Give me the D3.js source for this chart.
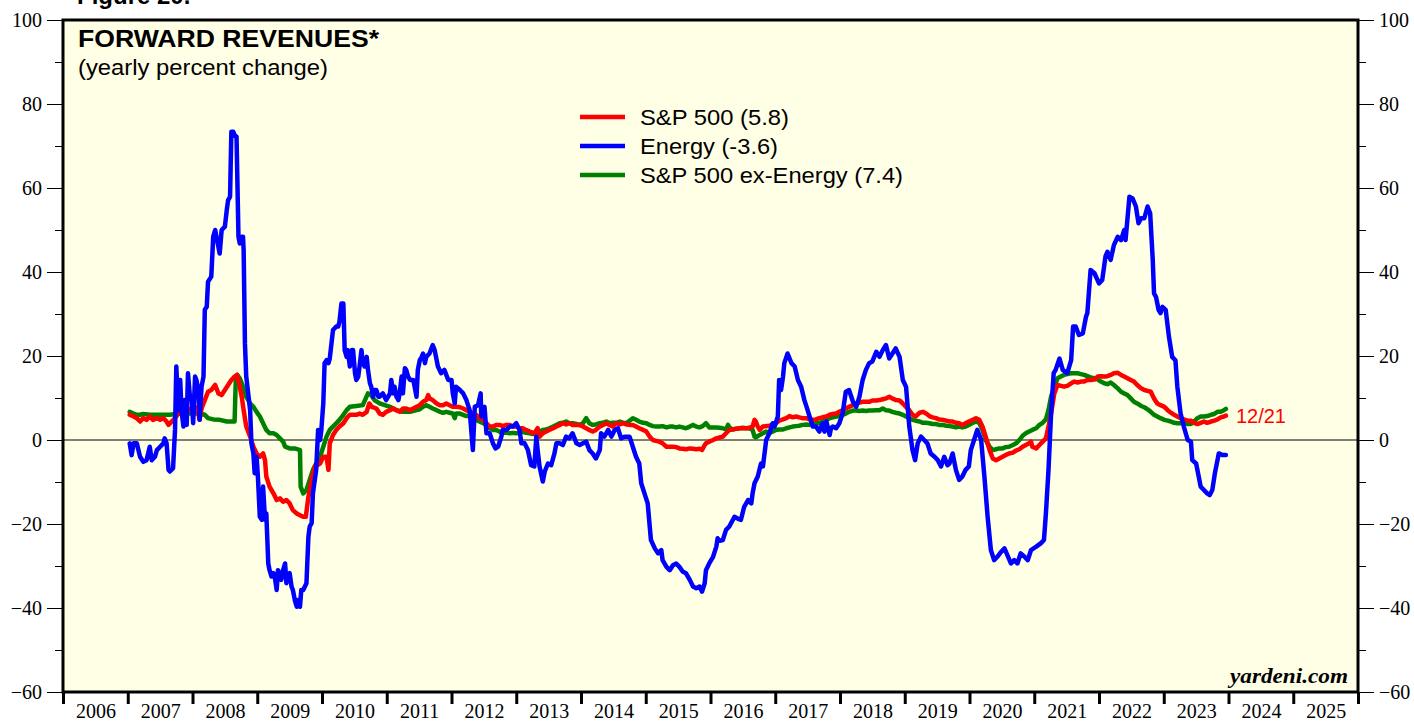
<!DOCTYPE html>
<html>
<head>
<meta charset="utf-8">
<script src="https://cdn.jsdelivr.net/npm/d3@7"></script>
<style>
body { margin: 0; background: #fff; }
svg { display: block; }
.axis text { font-family: "Liberation Serif", "Times New Roman", serif; font-size: 20px; fill: #000; }
.axis path.domain { display: none; }
.label { font-family: "Liberation Sans", Arial, sans-serif; fill: #000; }
</style>
</head>
<body>
<div id="chart"></div>
<script>
// Tick labels
const yearLabels = ["2006", "2007", "2008", "2009", "2010", "2011", "2012", "2013", "2014", "2015",
    "2016", "2017", "2018", "2019", "2020", "2021", "2022", "2023", "2024", "2025"];
const yMajor = [-60, -40, -20, 0, 20, 40, 60, 80, 100];
const yMinor = [-50, -30, -10, 10, 30, 50, 70, 90];

const seriesNames = ["S&P 500 (5.8)", "Energy (-3.6)", "S&P 500 ex-Energy (7.4)"];
const seriesColors = ["#ff0000", "#0000ff", "#008000"];
const lastDate = "12/21";

// [decimal year, yearly percent change]
const sp500 = [
[2007.03,6.0],[2007.09,5.6],[2007.14,5.2],[2007.19,4.4],[2007.24,5.2],[2007.29,4.8],[2007.34,5.6],[2007.39,4.8],[2007.45,5.2],[2007.50,4.8],[2007.55,5.2],[2007.60,4.4],[2007.63,3.6],[2007.68,4.4],[2007.73,5.2],[2007.78,6.3],[2007.83,7.9],[2007.88,6.7],[2007.93,7.5],[2007.99,7.1],[2008.04,7.9],[2008.09,6.3],[2008.11,4.8],[2008.14,7.5],[2008.19,9.5],[2008.24,11.5],[2008.29,11.9],[2008.35,13.1],[2008.40,11.1],[2008.45,10.7],[2008.50,11.9],[2008.55,13.1],[2008.60,14.3],[2008.65,15.1],[2008.69,15.5],[2008.72,13.5],[2008.76,10.3],[2008.79,7.1],[2008.83,3.2],[2008.89,0.8],[2008.94,-1.6],[2008.99,-3.2],[2009.04,-4.0],[2009.09,-3.2],[2009.12,-4.8],[2009.14,-8.7],[2009.19,-11.1],[2009.25,-12.7],[2009.30,-14.3],[2009.35,-13.9],[2009.40,-14.7],[2009.45,-14.3],[2009.50,-15.1],[2009.55,-16.7],[2009.61,-17.5],[2009.66,-17.9],[2009.71,-18.3],[2009.75,-18.3],[2009.79,-13.5],[2009.84,-9.5],[2009.89,-6.3],[2009.97,-5.6],[2010.02,-4.0],[2010.07,-4.0],[2010.10,-7.1],[2010.12,-0.8],[2010.17,1.2],[2010.22,2.4],[2010.27,3.2],[2010.33,4.0],[2010.38,5.2],[2010.43,6.0],[2010.48,6.0],[2010.53,6.0],[2010.58,6.3],[2010.63,6.0],[2010.69,6.7],[2010.73,8.7],[2010.77,7.9],[2010.84,7.5],[2010.89,6.3],[2010.94,6.0],[2010.99,6.7],[2011.05,7.1],[2011.10,7.5],[2011.15,7.1],[2011.20,6.7],[2011.25,7.5],[2011.30,7.5],[2011.36,7.1],[2011.41,7.5],[2011.46,7.9],[2011.51,8.3],
[2011.56,9.1],[2011.61,9.5],[2011.64,10.7],[2011.66,9.9],[2011.71,9.5],[2011.77,8.7],[2011.82,8.3],[2011.87,8.3],[2011.92,8.7],[2011.97,8.3],[2012.02,7.9],[2012.07,7.9],[2012.13,7.8],[2012.18,7.5],[2012.23,7.1],[2012.28,6.7],[2012.33,6.3],[2012.38,6.0],[2012.43,5.2],[2012.49,4.8],[2012.54,4.0],[2012.59,3.2],[2012.64,3.2],[2012.69,3.6],[2012.74,3.6],[2012.79,3.3],[2012.85,3.6],[2012.90,3.6],[2012.95,3.2],[2013.00,3.2],[2013.05,2.8],[2013.10,2.8],[2013.15,2.4],[2013.21,2.0],[2013.28,1.6],[2013.33,2.8],[2013.36,0.8],[2013.41,1.6],[2013.46,2.0],[2013.51,2.4],[2013.57,2.8],[2013.62,3.2],[2013.67,3.6],[2013.72,4.0],[2013.77,3.7],[2013.82,4.0],[2013.87,3.6],[2013.93,3.6],[2013.98,3.6],[2014.03,3.2],[2014.08,2.8],[2014.13,2.4],[2014.18,2.0],[2014.23,2.4],[2014.29,3.2],[2014.34,3.6],[2014.39,4.0],[2014.44,3.6],[2014.49,3.2],[2014.54,4.0],[2014.60,3.7],[2014.65,4.0],[2014.70,3.7],[2014.75,3.6],[2014.80,3.6],[2014.85,3.2],[2014.90,2.8],[2014.96,2.4],[2015.01,2.0],[2015.06,0.8],[2015.11,0.0],[2015.16,-0.2],[2015.21,-0.4],[2015.26,-0.8],[2015.32,-1.6],[2015.37,-1.6],[2015.42,-1.6],[2015.47,-1.7],[2015.52,-2.0],[2015.57,-2.1],[2015.62,-2.2],[2015.68,-2.0],[2015.73,-2.1],[2015.78,-2.2],[2015.83,-2.1],[2015.87,-2.4],[2015.91,-1.2],[2015.93,-0.8],[2015.98,-0.4],[2016.04,0.0],[2016.09,0.4],[2016.14,0.6],
[2016.19,0.8],[2016.24,1.6],[2016.29,2.4],[2016.34,2.5],[2016.40,2.7],[2016.45,2.8],[2016.55,2.8],[2016.60,2.9],[2016.65,3.2],[2016.68,4.8],[2016.70,4.4],[2016.73,3.2],[2016.76,2.4],[2016.81,3.2],[2016.91,3.4],[2016.96,3.6],[2017.01,4.0],[2017.06,4.6],[2017.12,4.9],[2017.17,5.2],[2017.22,5.7],[2017.27,5.4],[2017.32,5.6],[2017.37,5.4],[2017.42,5.2],[2017.48,5.2],[2017.53,4.9],[2017.58,4.8],[2017.63,4.9],[2017.68,5.2],[2017.73,5.4],[2017.79,5.6],[2017.84,6.0],[2017.89,6.2],[2017.94,6.3],[2017.99,6.7],[2018.04,7.1],[2018.09,7.5],[2018.14,7.9],[2018.20,8.3],[2018.25,8.6],[2018.30,8.9],[2018.35,9.1],[2018.45,9.1],[2018.50,9.4],[2018.56,9.4],[2018.61,9.5],[2018.66,9.7],[2018.71,9.9],[2018.76,10.3],[2018.81,9.9],[2018.86,9.5],[2018.92,9.4],[2018.97,8.7],[2019.02,7.9],[2019.07,7.1],[2019.12,6.0],[2019.17,5.6],[2019.23,6.5],[2019.28,6.7],[2019.33,6.3],[2019.38,5.7],[2019.43,5.4],[2019.48,5.2],[2019.53,4.9],[2019.59,4.8],[2019.64,4.6],[2019.69,4.4],[2019.74,4.4],[2019.79,4.1],[2019.84,4.0],[2019.89,3.6],[2019.94,4.0],[2019.99,4.4],[2020.05,4.8],[2020.10,5.2],[2020.15,4.8],[2020.20,3.2],[2020.25,0.8],[2020.31,-2.4],[2020.36,-4.4],[2020.41,-4.8],[2020.46,-4.4],[2020.51,-4.0],[2020.56,-3.6],[2020.61,-3.2],[2020.67,-3.0],[2020.72,-2.5],[2020.77,-2.2],
[2020.82,-1.6],[2020.87,-1.2],[2020.92,-0.8],[2020.95,-0.4],[2020.97,-1.6],[2021.03,-2.0],[2021.08,-1.2],[2021.13,-0.4],[2021.18,0.4],[2021.22,3.2],[2021.26,6.3],[2021.31,11.1],[2021.36,13.1],[2021.41,12.9],[2021.46,12.7],[2021.51,12.9],[2021.57,13.5],[2021.62,13.9],[2021.67,13.7],[2021.72,13.9],[2021.77,13.9],[2021.82,14.3],[2021.87,14.3],[2021.93,14.4],[2021.98,15.1],[2022.03,15.2],[2022.08,15.1],[2022.13,15.2],[2022.18,15.5],[2022.23,15.9],[2022.29,16.0],[2022.34,15.5],[2022.39,15.1],[2022.44,14.7],[2022.49,14.3],[2022.54,13.9],[2022.59,13.1],[2022.65,12.3],[2022.70,11.9],[2022.75,11.7],[2022.80,11.5],[2022.85,9.9],[2022.90,8.7],[2022.95,8.3],[2023.01,7.9],[2023.06,7.1],[2023.11,6.5],[2023.16,6.0],[2023.21,5.6],[2023.26,5.2],[2023.31,4.9],[2023.37,4.6],[2023.42,4.6],[2023.47,4.1],[2023.52,3.8],[2023.57,4.1],[2023.62,4.4],[2023.67,4.1],[2023.73,4.4],[2023.78,4.6],[2023.83,4.9],[2023.88,5.4],[2023.93,5.6],[2023.96,5.8]
];

const energy = [
[2007.03,-0.8],[2007.06,-3.6],[2007.09,-0.8],[2007.14,-0.8],[2007.19,-4.0],[2007.24,-5.2],[2007.29,-4.8],[2007.34,-1.6],[2007.37,-4.8],[2007.42,-4.0],[2007.45,-2.4],[2007.50,-1.6],[2007.55,-0.8],[2007.57,0.4],[2007.60,-0.8],[2007.63,-7.1],[2007.65,-7.5],[2007.70,-6.7],[2007.73,2.4],[2007.75,17.5],[2007.78,7.1],[2007.81,14.3],[2007.83,7.1],[2007.86,3.2],[2007.88,9.5],[2007.91,3.6],[2007.93,15.9],[2007.96,10.3],[2007.99,9.5],[2008.01,4.0],[2008.04,15.1],[2008.06,14.3],[2008.09,11.9],[2008.11,4.8],[2008.14,12.7],[2008.17,15.1],[2008.19,31.0],[2008.22,31.7],[2008.24,37.7],[2008.29,38.9],[2008.32,48.4],[2008.35,50.0],[2008.37,48.4],[2008.42,44.4],[2008.45,50.0],[2008.50,50.8],[2008.53,54.8],[2008.55,57.1],[2008.58,57.9],[2008.60,73.4],[2008.63,73.4],[2008.65,72.6],[2008.68,72.2],[2008.71,48.4],[2008.73,46.8],[2008.76,48.4],[2008.78,48.4],[2008.79,45.2],[2008.81,23.0],[2008.83,15.1],[2008.89,7.1],[2008.91,-0.8],[2008.94,-3.2],[2008.96,-7.9],[2008.99,-4.0],[2009.01,-8.7],[2009.04,-18.3],[2009.07,-19.0],[2009.09,-11.1],[2009.12,-19.0],[2009.14,-17.5],[2009.17,-29.4],[2009.19,-31.0],[2009.22,-32.5],[2009.25,-31.7],[2009.27,-32.5],[2009.30,-35.7],[2009.32,-31.0],[2009.35,-31.7],[2009.37,-33.3],[2009.40,-31.0],[2009.43,-29.4],[2009.45,-34.1],[2009.48,-32.5],[2009.50,-31.7],[2009.53,-34.9],[2009.55,-35.7],[2009.58,-38.1],[2009.61,-39.7],[2009.63,-38.1],[2009.66,-39.7],[2009.68,-35.7],[2009.71,-35.7],[2009.76,-34.1],[2009.79,-23.0],[2009.81,-20.6],[2009.84,-19.8],[2009.86,-12.7],[2009.91,-7.1],[2009.94,2.4],[2009.97,0.0],[2009.99,2.4],[2010.02,8.7],[2010.04,18.3],[2010.07,19.0],[2010.10,18.3],[2010.12,19.4],[2010.17,26.2],[2010.22,27.0],[2010.25,27.0],[2010.27,28.2],[2010.30,32.5],[2010.33,32.5],[2010.35,21.4],[2010.38,19.8],[2010.40,21.4],[2010.43,17.5],[2010.46,21.4],[2010.48,21.4],[2010.51,15.9],[2010.53,14.3],[2010.56,15.1],[2010.58,17.5],[2010.61,21.4],[2010.63,18.3],[2010.66,17.5],[2010.69,19.8],[2010.71,16.7],[2010.74,13.5],[2010.76,12.7],[2010.79,10.3],[2010.81,11.9],[2010.84,11.9],[2010.87,10.3],[2010.89,10.3],[2010.94,11.1],[2010.99,9.5],[2011.05,11.1],[2011.07,14.3],[2011.10,11.1],[2011.12,12.7],[2011.15,10.3],[2011.18,9.5],[2011.20,11.1],[2011.23,15.1],[2011.25,11.1],[2011.28,17.1],[2011.30,16.7],[2011.33,15.1],[2011.36,14.3],[2011.41,14.3],[2011.43,12.7],[2011.46,10.3],[2011.48,16.7],[2011.51,19.0],
[2011.54,19.8],[2011.56,20.6],[2011.59,18.3],[2011.61,19.8],[2011.66,20.6],[2011.71,22.6],[2011.74,21.4],[2011.79,17.5],[2011.84,15.9],[2011.89,16.7],[2011.95,14.3],[2012.00,14.3],[2012.02,11.1],[2012.05,8.7],[2012.07,12.7],[2012.13,11.9],[2012.18,11.1],[2012.23,9.5],[2012.28,7.1],[2012.33,-2.4],[2012.36,7.9],[2012.41,8.3],[2012.45,11.1],[2012.46,5.6],[2012.51,7.9],[2012.54,1.6],[2012.59,1.6],[2012.64,-0.8],[2012.68,-2.0],[2012.72,-1.6],[2012.77,0.8],[2012.79,2.4],[2012.85,2.4],[2012.90,3.2],[2012.95,3.2],[2013.00,4.0],[2013.05,2.4],[2013.08,-0.8],[2013.13,-0.8],[2013.18,-2.4],[2013.23,-6.0],[2013.28,-6.3],[2013.31,0.8],[2013.33,-2.4],[2013.36,-6.3],[2013.41,-9.9],[2013.44,-7.5],[2013.49,-5.6],[2013.54,-6.0],[2013.59,-3.2],[2013.62,-0.8],[2013.67,-0.8],[2013.72,-1.2],[2013.77,0.8],[2013.82,0.4],[2013.87,1.6],[2013.93,-0.8],[2013.98,-1.2],[2014.03,-0.8],[2014.08,-0.4],[2014.13,-2.4],[2014.18,-3.2],[2014.23,-4.4],[2014.29,-2.4],[2014.31,1.6],[2014.36,0.8],[2014.42,2.4],[2014.47,0.8],[2014.52,2.4],[2014.57,2.8],[2014.62,0.4],[2014.67,0.8],[2014.75,0.8],[2014.80,-1.6],[2014.85,-4.0],[2014.90,-5.6],[2014.93,-10.3],[2014.98,-12.7],[2015.03,-15.1],[2015.08,-23.8],[2015.14,-25.8],[2015.19,-27.0],[2015.24,-26.2],[2015.26,-28.6],[2015.32,-30.2],[2015.37,-31.0],[2015.42,-29.8],[2015.47,-29.4],[2015.52,-30.2],[2015.57,-31.3],[2015.62,-31.7],[2015.68,-33.3],[2015.73,-34.9],[2015.78,-35.3],[2015.83,-34.9],[2015.87,-36.1],[2015.91,-34.1],[2015.93,-31.0],[2015.98,-29.4],[2016.04,-27.8],[2016.09,-25.4],[2016.11,-23.4],[2016.14,-24.0],
[2016.19,-23.8],[2016.24,-21.4],[2016.29,-20.6],[2016.37,-18.3],[2016.42,-18.7],[2016.47,-19.0],[2016.52,-15.9],[2016.58,-14.3],[2016.63,-15.1],[2016.65,-12.7],[2016.68,-10.3],[2016.73,-8.7],[2016.78,-5.6],[2016.81,-6.3],[2016.86,0.0],[2016.91,1.6],[2016.96,4.0],[2016.99,3.2],[2017.04,5.6],[2017.06,14.3],[2017.09,11.9],[2017.12,15.1],[2017.14,18.3],[2017.19,20.6],[2017.25,18.3],[2017.30,17.5],[2017.35,14.3],[2017.40,12.7],[2017.45,9.5],[2017.50,7.1],[2017.53,5.6],[2017.58,3.2],[2017.63,3.2],[2017.68,2.0],[2017.73,4.0],[2017.76,2.0],[2017.79,4.4],[2017.84,1.2],[2017.86,2.8],[2017.89,3.2],[2017.94,2.8],[2017.99,4.0],[2018.04,6.3],[2018.09,11.5],[2018.14,11.9],[2018.20,9.1],[2018.25,7.9],[2018.30,10.3],[2018.35,14.3],[2018.40,16.7],[2018.45,18.3],[2018.50,18.7],[2018.56,21.0],[2018.61,19.8],[2018.66,21.4],[2018.71,22.6],[2018.76,19.4],[2018.81,20.6],[2018.86,21.8],[2018.92,19.8],[2018.97,14.3],[2019.02,12.7],[2019.07,3.2],[2019.12,-2.4],[2019.16,-4.8],[2019.20,-0.8],[2019.25,0.8],[2019.30,0.0],[2019.35,-0.8],[2019.40,-3.2],[2019.46,-4.0],[2019.51,-4.8],[2019.56,-6.3],[2019.61,-4.0],[2019.66,-6.0],[2019.69,-5.6],[2019.74,-3.2],[2019.79,-7.1],[2019.84,-9.5],[2019.89,-8.7],[2019.94,-7.1],[2019.99,-6.3],[2020.02,-2.4],[2020.07,0.0],[2020.12,2.4],[2020.18,0.0],[2020.23,-8.7],[2020.28,-18.3],[2020.33,-26.2],[2020.38,-28.6],[2020.43,-27.8],[2020.49,-26.6],[2020.54,-25.8],
[2020.64,-29.4],[2020.69,-28.6],[2020.74,-29.4],[2020.79,-27.0],[2020.85,-27.8],[2020.90,-28.6],[2020.95,-26.2],[2021.03,-25.4],[2021.10,-24.6],[2021.15,-23.8],[2021.18,-17.5],[2021.22,-7.1],[2021.26,6.3],[2021.30,15.9],[2021.33,16.7],[2021.39,19.4],[2021.44,16.7],[2021.51,15.9],[2021.57,19.0],[2021.60,27.0],[2021.64,27.0],[2021.69,25.0],[2021.75,25.4],[2021.80,29.4],[2021.82,30.2],[2021.87,40.5],[2021.93,39.7],[2022.00,37.3],[2022.05,38.1],[2022.10,43.7],[2022.13,44.8],[2022.18,42.9],[2022.23,46.4],[2022.29,48.4],[2022.34,47.6],[2022.39,50.0],[2022.41,47.6],[2022.47,57.9],[2022.52,57.5],[2022.57,55.6],[2022.61,51.6],[2022.65,52.8],[2022.70,52.8],[2022.75,55.6],[2022.79,54.0],[2022.83,42.9],[2022.85,34.9],[2022.88,34.1],[2022.92,31.0],[2022.95,30.2],[2022.98,31.7],[2023.03,31.0],[2023.08,24.6],[2023.13,19.8],[2023.18,19.0],[2023.21,12.7],[2023.26,6.3],[2023.31,3.2],[2023.37,0.0],[2023.42,-0.4],[2023.44,-4.8],[2023.50,-5.6],[2023.54,-8.7],[2023.57,-11.1],[2023.62,-11.9],[2023.67,-12.7],[2023.71,-13.1],[2023.75,-11.9],[2023.79,-7.9],[2023.83,-4.8],[2023.85,-3.2],[2023.91,-3.6],[2023.96,-3.6]
];

const exEnergy = [
[2007.03,6.7],[2007.09,6.3],[2007.14,6.0],[2007.19,6.0],[2007.24,6.2],[2007.34,6.0],[2007.45,6.0],[2007.55,6.0],[2007.65,6.0],[2007.75,6.2],[2007.86,6.3],[2007.96,6.3],[2008.06,6.3],[2008.14,6.2],[2008.19,6.0],[2008.24,5.2],[2008.32,4.9],[2008.42,4.8],[2008.53,4.4],[2008.60,4.4],[2008.65,4.4],[2008.67,15.1],[2008.69,15.5],[2008.73,14.7],[2008.78,12.7],[2008.83,10.3],[2008.89,8.7],[2008.94,7.9],[2008.99,6.7],[2009.04,5.6],[2009.09,4.0],[2009.14,2.4],[2009.19,1.6],[2009.25,1.6],[2009.30,1.2],[2009.35,0.4],[2009.40,-0.4],[2009.43,-1.6],[2009.50,-2.0],[2009.58,-2.0],[2009.66,-2.4],[2009.67,-11.1],[2009.71,-12.7],[2009.76,-11.9],[2009.81,-9.5],[2009.86,-7.1],[2009.91,-5.6],[2009.97,-4.0],[2010.02,-1.6],[2010.07,0.8],[2010.12,2.4],[2010.17,3.2],[2010.22,4.0],[2010.27,4.8],[2010.33,6.0],[2010.38,7.1],[2010.43,7.9],[2010.53,8.1],[2010.63,8.3],[2010.71,11.1],[2010.76,10.7],[2010.81,9.5],[2010.89,8.7],[2010.97,8.3],[2011.05,7.9],[2011.15,7.1],[2011.25,6.7],[2011.36,6.7],[2011.46,7.1],[2011.51,7.3],
[2011.56,7.9],[2011.61,8.3],[2011.66,7.9],[2011.71,7.5],[2011.77,7.1],[2011.82,6.7],[2011.87,6.5],[2011.92,6.7],[2011.97,6.5],[2012.02,6.3],[2012.05,5.2],[2012.07,6.3],[2012.13,6.3],[2012.18,6.0],[2012.23,5.7],[2012.28,5.7],[2012.33,5.6],[2012.38,4.8],[2012.43,4.4],[2012.49,4.0],[2012.54,3.6],[2012.59,2.8],[2012.64,2.4],[2012.69,2.4],[2012.74,2.0],[2012.79,1.7],[2012.85,1.7],[2012.90,1.6],[2012.95,1.7],[2013.00,1.6],[2013.05,1.7],[2013.10,2.0],[2013.15,1.7],[2013.21,1.6],[2013.26,1.4],[2013.31,1.6],[2013.36,2.0],[2013.41,2.4],[2013.46,2.5],[2013.51,2.8],[2013.57,3.2],[2013.62,3.6],[2013.67,4.0],[2013.72,4.1],[2013.77,4.4],[2013.82,4.0],[2013.87,4.0],[2013.93,3.8],[2013.98,3.6],[2014.03,4.0],[2014.08,5.2],[2014.13,4.0],[2014.18,3.6],[2014.23,3.7],[2014.29,4.0],[2014.34,4.1],[2014.39,4.4],[2014.44,4.0],[2014.49,4.1],[2014.54,4.1],[2014.60,4.4],[2014.65,4.1],[2014.70,4.0],[2014.75,4.6],[2014.80,5.2],[2014.85,4.8],[2014.90,4.4],[2014.96,4.1],[2015.01,4.0],[2015.06,3.6],[2015.11,3.3],[2015.16,3.2],[2015.21,3.2],[2015.26,3.3],[2015.32,3.0],[2015.37,3.2],[2015.42,3.2],[2015.47,3.0],[2015.52,3.2],[2015.57,3.0],[2015.62,2.8],[2015.68,3.2],[2015.73,3.6],[2015.78,3.2],[2015.83,3.0],[2015.88,3.3],[2015.93,4.0],[2015.98,3.0],[2016.04,3.0],[2016.09,3.0],[2016.14,2.9],
[2016.19,2.8],[2016.24,2.5],[2016.27,3.6],[2016.29,3.0],[2016.34,2.5],[2016.40,2.7],[2016.45,2.8],[2016.50,2.9],[2016.55,2.8],[2016.60,2.8],[2016.65,2.4],[2016.68,0.8],[2016.70,0.6],[2016.76,1.2],[2016.81,1.6],[2016.86,2.0],[2016.91,1.7],[2016.96,2.0],[2017.01,2.4],[2017.06,2.5],[2017.12,2.5],[2017.17,2.8],[2017.22,3.0],[2017.27,3.2],[2017.32,3.3],[2017.37,3.4],[2017.42,3.6],[2017.48,3.7],[2017.53,3.6],[2017.58,3.8],[2017.63,4.0],[2017.68,4.0],[2017.73,4.4],[2017.79,4.8],[2017.84,5.2],[2017.89,5.4],[2017.94,5.6],[2017.99,5.7],[2018.04,6.0],[2018.09,6.3],[2018.14,6.7],[2018.20,7.0],[2018.25,7.0],[2018.30,6.9],[2018.35,7.0],[2018.40,6.9],[2018.45,7.0],[2018.50,7.0],[2018.56,7.1],[2018.61,7.1],[2018.66,7.5],[2018.71,7.1],[2018.76,7.0],[2018.81,6.7],[2018.86,6.5],[2018.92,6.3],[2018.97,6.0],[2019.02,5.6],[2019.07,5.2],[2019.12,4.8],[2019.17,4.6],[2019.23,4.4],[2019.28,4.1],[2019.33,4.1],[2019.38,4.0],[2019.43,3.8],[2019.48,3.8],[2019.53,3.6],[2019.59,3.6],[2019.64,3.4],[2019.69,3.3],[2019.74,3.2],[2019.79,3.0],[2019.84,3.2],[2019.89,3.0],[2019.94,3.2],[2019.99,3.6],[2020.05,4.1],[2020.10,4.4],[2020.15,4.1],[2020.20,2.4],[2020.25,0.0],[2020.31,-1.6],[2020.36,-2.4],[2020.41,-2.2],[2020.46,-2.0],[2020.51,-2.0],[2020.56,-1.7],[2020.61,-1.6],[2020.67,-1.2],[2020.72,-0.8],[2020.77,0.0],
[2020.82,1.0],[2020.87,1.6],[2020.92,2.0],[2020.97,2.4],[2021.03,2.8],[2021.08,3.6],[2021.13,4.1],[2021.18,4.9],[2021.22,7.1],[2021.26,10.3],[2021.31,12.7],[2021.36,14.7],[2021.41,15.1],[2021.46,15.5],[2021.51,15.7],[2021.57,15.9],[2021.62,15.9],[2021.67,15.9],[2021.72,15.7],[2021.77,15.5],[2021.82,15.2],[2021.87,14.9],[2021.93,14.7],[2021.98,14.4],[2022.03,13.9],[2022.08,13.5],[2022.13,13.3],[2022.18,13.7],[2022.23,13.1],[2022.29,12.3],[2022.34,11.5],[2022.39,11.1],[2022.44,10.7],[2022.49,9.9],[2022.54,9.1],[2022.59,8.7],[2022.65,8.1],[2022.70,7.8],[2022.75,7.3],[2022.80,6.7],[2022.85,6.0],[2022.90,5.6],[2022.95,5.2],[2023.01,4.8],[2023.06,4.6],[2023.11,4.4],[2023.16,4.1],[2023.21,4.0],[2023.26,4.0],[2023.31,4.0],[2023.37,3.8],[2023.42,3.8],[2023.47,4.4],[2023.52,5.2],[2023.57,5.6],[2023.62,5.6],[2023.67,5.7],[2023.73,6.0],[2023.78,6.2],[2023.83,6.7],[2023.88,6.7],[2023.93,7.1],[2023.96,7.4]
];

// Set the dimensions of the canvas / graph
const margin = {top: 20, right: 56, bottom: 29, left: 63},
    fullWidth = 1414,
    fullHeight = 721,
    width = fullWidth - margin.left - margin.right,
    height = fullHeight - margin.top - margin.bottom;

// Set the ranges
const x = d3.scaleLinear()
    .domain([+yearLabels[0], +yearLabels[yearLabels.length - 1] + 1])
    .range([0, width]);
const y = d3.scaleLinear().domain([-60, 100]).range([height, 0]);

const svg = d3.select("#chart")
    .append("svg")
        .attr("width", fullWidth)
        .attr("height", fullHeight);

// Figure number, cut at the top edge as in the source
svg.append("text")
    .attr("class", "label")
    .attr("x", 77)
    .attr("y", 4)
    .style("font-size", "24px")
    .style("font-weight", "bold")
    .text("Figure 20.");

const g = svg.append("g")
    .attr("transform", "translate(" + margin.left + "," + margin.top + ")");

g.append("rect")
    .attr("width", width)
    .attr("height", height)
    .attr("fill", "#ffffe6");

g.append("clipPath")
    .attr("id", "plotClip")
  .append("rect")
    .attr("width", width)
    .attr("height", height);

// Zero line
g.append("line")
    .attr("x1", 0)
    .attr("x2", width)
    .attr("y1", y(0))
    .attr("y2", y(0))
    .attr("stroke", "#000")
    .attr("stroke-width", 1);

// Lines (green first, blue on top)
const line = d3.line()
    .x(function(d) { return x(d[0]); })
    .y(function(d) { return y(d[1]); });

const series = [
    {data: exEnergy, color: seriesColors[2]},
    {data: sp500, color: seriesColors[0]},
    {data: energy, color: seriesColors[1]}
];
g.append("g")
    .attr("clip-path", "url(#plotClip)")
  .selectAll("path")
    .data(series)
    .enter().append("path")
        .attr("fill", "none")
        .attr("stroke", function(d) { return d.color; })
        .attr("stroke-width", 4.5)
        .attr("stroke-linejoin", "round")
        .attr("stroke-linecap", "round")
        .attr("d", function(d) { return line(d.data); });

// Plot frame
g.append("rect")
    .attr("width", width)
    .attr("height", height)
    .attr("fill", "none")
    .attr("stroke", "#000")
    .attr("stroke-width", 3);

// Y axes, left and right
g.append("g")
    .attr("class", "axis")
    .call(d3.axisLeft(y).tickValues(yMajor).tickSize(16).tickPadding(5));
g.append("g")
    .attr("class", "axis")
    .call(d3.axisLeft(y).tickValues(yMinor).tickSize(8).tickFormat(""));
g.append("g")
    .attr("class", "axis")
    .attr("transform", "translate(" + width + ",0)")
    .call(d3.axisRight(y).tickValues(yMajor).tickSize(16).tickPadding(5));
g.append("g")
    .attr("class", "axis")
    .attr("transform", "translate(" + width + ",0)")
    .call(d3.axisRight(y).tickValues(yMinor).tickSize(8).tickFormat(""));

// X axis: year boundaries as ticks, labels centred inside each year
const bounds = yearLabels.map(Number).concat([+yearLabels[yearLabels.length - 1] + 1]);
g.append("g")
    .attr("class", "axis")
    .attr("transform", "translate(0," + height + ")")
    .call(d3.axisBottom(x).tickValues(bounds).tickSize(12).tickFormat(""))
    .selectAll(".tick line")
        .attr("stroke-width", 3);
g.append("g")
    .attr("class", "axis")
    .attr("transform", "translate(0," + height + ")")
    .call(d3.axisBottom(x)
        .tickValues(yearLabels.map(function(d) { return +d + 0.5; }))
        .tickSize(0)
        .tickPadding(12)
        .tickFormat(function(d, i) { return yearLabels[i]; }))
    .selectAll(".tick line").remove();

// Title
g.append("text")
    .attr("class", "label")
    .attr("x", 15)
    .attr("y", 27)
    .attr("textLength", 301)
    .attr("lengthAdjust", "spacingAndGlyphs")
    .style("font-size", "23px")
    .style("font-weight", "bold")
    .text("FORWARD REVENUES*");
g.append("text")
    .attr("class", "label")
    .attr("x", 15)
    .attr("y", 55)
    .attr("textLength", 250)
    .attr("lengthAdjust", "spacingAndGlyphs")
    .style("font-size", "22px")
    .text("(yearly percent change)");

// Legend
const legendWidths = [149, 138, 263];
const legend = svg.selectAll(".legend")
    .data(seriesNames)
    .enter().append("g")
        .attr("class", "legend")
        .attr("transform", function(d, i) { return "translate(580," + (117 + i * 29) + ")"; });
legend.append("line")
    .attr("x1", 0)
    .attr("x2", 45)
    .attr("stroke", function(d, i) { return seriesColors[i]; })
    .attr("stroke-width", 4.5);
legend.append("text")
    .attr("class", "label")
    .attr("x", 60)
    .attr("dy", 8)
    .attr("textLength", function(d, i) { return legendWidths[i]; })
    .attr("lengthAdjust", "spacingAndGlyphs")
    .style("font-size", "22px")
    .text(function(d) { return d; });

// Last date label next to the S&P 500 line
const last = sp500[sp500.length - 1];
g.append("text")
    .attr("class", "label")
    .attr("x", x(last[0]) + 10)
    .attr("y", y(last[1]) + 7)
    .style("font-size", "20px")
    .style("fill", seriesColors[0])
    .text(lastDate);

// Source
g.append("text")
    .attr("x", width - 10)
    .attr("y", height - 9)
    .attr("text-anchor", "end")
    .attr("textLength", 118)
    .attr("lengthAdjust", "spacingAndGlyphs")
    .style("font-family", "'Liberation Serif', 'Times New Roman', serif")
    .style("font-size", "21px")
    .style("font-weight", "bold")
    .style("font-style", "italic")
    .text("yardeni.com");
</script>
</body>
</html>
